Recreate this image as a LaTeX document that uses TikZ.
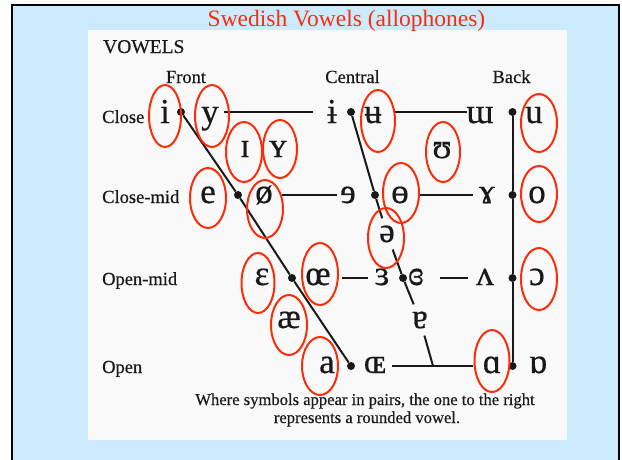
\documentclass[tikz,border=0pt]{standalone}
\usepackage{fontspec}
\setmainfont{Liberation Serif}
\newfontfamily\chartfont[FakeBold=0.5]{Liberation Serif}
\usetikzlibrary{shapes.geometric}
\definecolor{bgblue}{RGB}{204,235,255}
\definecolor{ringred}{RGB}{250,45,10}
\definecolor{panel}{RGB}{249,249,249}
\definecolor{ink}{RGB}{25,25,25}
\begin{document}
\begin{tikzpicture}[x=1pt,y=-1pt,
  sym/.style={font=\chartfont\fontsize{35}{35}\selectfont, text=ink, anchor=base, inner sep=0pt},
  gapsym/.style={sym, inner sep=7pt},
  lab/.style={font=\chartfont\fontsize{18.5}{19}\selectfont, text=ink, anchor=base west, inner sep=0pt},
  head/.style={font=\chartfont\fontsize{18.5}{19}\selectfont, text=ink, anchor=base, inner sep=0pt},
  captext/.style={font=\chartfont\fontsize{16.6}{17}\selectfont, text=ink, anchor=base, inner sep=0pt},
  dotn/.style={circle, fill=ink, inner sep=0pt, minimum size=8pt},
  ring/.style={ellipse, draw=ringred, line width=2pt, inner sep=0pt},
  chartline/.style={line width=2pt, draw=ink}]
\useasboundingbox (0,0) rectangle (622,459);
\clip (0,0) rectangle (622,459);
\fill[white] (0,0) rectangle (622,459);
\draw[line width=2.5pt, fill=bgblue] (12,5) rectangle (619,490);
\fill[panel] (88,30) rectangle (567,440);

% title and headings
\node[font=\fontsize{23.5}{24}\selectfont, text=ringred, anchor=base, inner sep=0pt] (title) at (346.5,26) {Swedish Vowels (allophones)};
\node[font=\chartfont\fontsize{19.5}{20}\selectfont, text=ink, anchor=base west, inner sep=0pt] (vowels) at (103,53) {VOWELS};
\node[head] (front) at (186,83) {Front};
\node[head] (central) at (352.5,83) {Central};
\node[head] (back) at (511.5,83) {Back};
\node[lab] (lclose) at (102,123) {Close};
\node[lab] (lclosemid) at (102,203) {Close-mid};
\node[lab] (lopenmid) at (102,285) {Open-mid};
\node[lab] (lopen) at (102,373) {Open};
\node[captext] (cap1) at (365,405) {Where symbols appear in pairs, the one to the right};
\node[captext] (cap2) at (367,423) {represents a rounded vowel.};

% dots
\node[dotn] (f1) at (181,112) {};
\node[dotn] (f2) at (238,195) {};
\node[dotn] (f3) at (292,278) {};
\node[dotn] (f4) at (351,366) {};
\node[dotn] (c1) at (351,112) {};
\node[dotn] (c2) at (375,195) {};
\node[dotn] (c3) at (403,278) {};
\node[dotn] (b1) at (512.5,112) {};
\node[dotn] (b2) at (512.5,195) {};
\node[dotn] (b3) at (512.5,278) {};
\node[dotn] (b4) at (512.5,366) {};
\coordinate (c4) at (433,366);

% symbols
\node[sym] (si) at (165,123) {i};
\node[sym] (sy) at (210,123) {y};
\node[sym] (sbi) at (332,123) {ɨ};
\node[sym] (sbu) at (373,123) {ʉ};
\node[sym] (sturm) at (480,123) {ɯ};
\node[sym] (su) at (534,123) {u};
\node[sym] (ssi) at (245,157) {ɪ};
\node[sym] (ssy) at (278,157) {ʏ};
\node[sym] (supsilon) at (442,158) {ʊ};
\node[sym] (se) at (208,203) {e};
\node[sym] (soslash) at (264,203) {ø};
\node[sym] (srevE) at (348,203) {ɘ};
\node[sym] (sbaro) at (400,203) {ɵ};
\node[sym] (sram) at (487,203) {ɤ};
\node[sym] (so) at (537,203) {o};
\node[gapsym] (sschwa) at (387,242) {ə};
\node[sym] (seps) at (262,285) {ɛ};
\node[sym] (soe) at (318,285) {œ};
\node[sym] (srevEps) at (382,285) {ɜ};
\node[sym] (sclrevEps) at (416,285) {ɞ};
\node[sym] (swedge) at (485,285) {ʌ};
\node[sym] (sopeno) at (537,285) {ɔ};
\node[sym] (sae) at (289,328) {æ};
\node[gapsym] (sturna) at (420,328) {ɐ};
\node[sym] (sa) at (327,373) {a};
\node[sym] (soesc) at (375,373) {ɶ};
\node[sym] (salpha) at (492,373) {ɑ};
\node[sym] (sturnalpha) at (538,373) {ɒ};

% chart lines
\draw[chartline] (f1) -- (f2) -- (f3) -- (f4);
\draw[chartline] (b1) -- (b2) -- (b3) -- (b4);
\draw[chartline] (c1) -- (c2);
\draw[chartline] (c2) -- (sschwa);
\draw[chartline] (sschwa) -- (c3);
\draw[chartline] (c3) -- (sturna);
\draw[chartline] (sturna) -- (c4);

\coordinate (h1a) at (224,112); \coordinate (h1b) at (313,112);
\coordinate (h2a) at (395,112); \coordinate (h2b) at (467,112);
\coordinate (h3a) at (282,195); \coordinate (h3b) at (337,195);
\coordinate (h4a) at (420,195); \coordinate (h4b) at (473,195);
\coordinate (h5a) at (342,278); \coordinate (h5b) at (368,278);
\coordinate (h6a) at (440,278); \coordinate (h6b) at (468,278);
\coordinate (h7a) at (392,366); \coordinate (h7b) at (473,366);
\draw[chartline] (h1a) -- (h1b);
\draw[chartline] (h2a) -- (h2b);
\draw[chartline] (h3a) -- (h3b);
\draw[chartline] (h4a) -- (h4b);
\draw[chartline] (h5a) -- (h5b);
\draw[chartline] (h6a) -- (h6b);
\draw[chartline] (h7a) -- (h7b);

% red rings
\node[ring, minimum width=32pt, minimum height=62pt] (ri) at (165,116) {};
\node[ring, minimum width=34pt, minimum height=62pt] (ry) at (212,116) {};
\node[ring, minimum width=36pt, minimum height=60pt] (rsi) at (244,152) {};
\node[ring, minimum width=34pt, minimum height=58pt] (rsy) at (280,149) {};
\node[ring, minimum width=34pt, minimum height=62pt] (rbu) at (378,121) {};
\node[ring, minimum width=34pt, minimum height=60pt] (rupsilon) at (443,152) {};
\node[ring, minimum width=36pt, minimum height=58pt] (ru) at (539,123) {};
\node[ring, minimum width=36pt, minimum height=60pt] (re) at (208,198) {};
\node[ring, minimum width=36pt, minimum height=58pt] (roslash) at (265,209) {};
\node[ring, minimum width=36pt, minimum height=60pt] (rbaro) at (401,193) {};
\node[ring, minimum width=36pt, minimum height=56pt] (ro) at (539,194) {};
\node[ring, minimum width=36pt, minimum height=60pt] (rschwa) at (386,238) {};
\node[ring, minimum width=33pt, minimum height=60pt] (reps) at (258,283) {};
\node[ring, minimum width=36pt, minimum height=62pt] (roe) at (320,274) {};
\node[ring, minimum width=36pt, minimum height=60pt] (rae) at (289,325) {};
\node[ring, minimum width=36pt, minimum height=62pt] (ropeno) at (539,279) {};
\node[ring, minimum width=36pt, minimum height=58pt] (ra) at (320,366) {};
\node[ring, minimum width=35pt, minimum height=62pt] (ralpha) at (492,361) {};
\end{tikzpicture}
\end{document}
